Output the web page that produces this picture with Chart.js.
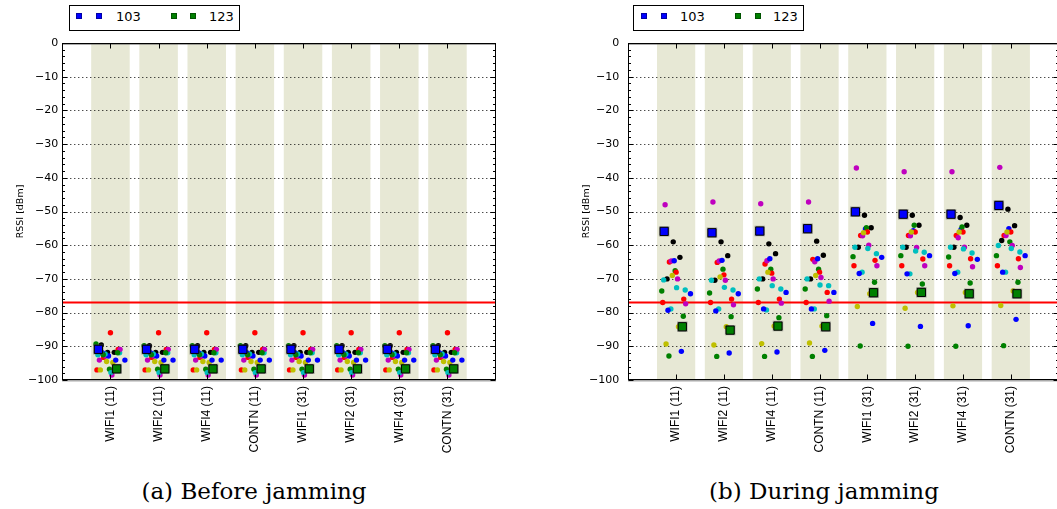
<!DOCTYPE html>
<html><head><meta charset="utf-8">
<script src="https://cdn.jsdelivr.net/npm/chart.js@4.4.1/dist/chart.umd.min.js"></script>
<style>
html,body{margin:0;padding:0;background:#fff;width:1057px;height:509px;overflow:hidden;position:relative;}
canvas{position:absolute;top:0;}
.legend{position:absolute;top:5px;width:169px;height:24px;border:1px solid #000;background:#fff;font-family:'DejaVu Sans';font-size:13px;z-index:5;}
.legend .m{position:absolute;top:7px;width:6px;height:6px;box-sizing:border-box;border:1px solid rgba(0,0,0,0.35);}
.legend .t{position:absolute;top:4px;line-height:13px;color:#000;}
.cap{position:absolute;top:479px;font-family:'DejaVu Serif';font-size:23px;line-height:24px;white-space:nowrap;transform:translateX(-50%);color:#000;}
</style></head><body>
<canvas id="c1" width="530" height="470" style="left:0px"></canvas>
<canvas id="c2" width="500" height="470" style="left:566px"></canvas>
<div class="legend" style="left:69px">
  <span class="m" style="left:6px;background:#0000ff"></span><span class="m" style="left:26px;background:#0000ff"></span><span class="t" style="left:46px">103</span>
  <span class="m" style="left:101px;background:#008000"></span><span class="m" style="left:120px;background:#008000"></span><span class="t" style="left:139px">123</span>
</div>
<div class="legend" style="left:633px">
  <span class="m" style="left:7px;background:#0000ff"></span><span class="m" style="left:27px;background:#0000ff"></span><span class="t" style="left:46px">103</span>
  <span class="m" style="left:101px;background:#008000"></span><span class="m" style="left:121px;background:#008000"></span><span class="t" style="left:139px">123</span>
</div>
<div class="cap" style="left:254px">(a) Before jamming</div>
<div class="cap" style="left:824px">(b) During jamming</div>
<script>
// ---------- data ----------
const categories = ['WIFI1 (11)','WIFI2 (11)','WIFI4 (11)','CONTN (11)','WIFI1 (31)','WIFI2 (31)','WIFI4 (31)','CONTN (31)'];
const yTickValues = [0,-10,-20,-30,-40,-50,-60,-70,-80,-90,-100];
const jammingThreshold = -77;
const legendNodes = ['103','123'];
// one entry per node: colour code and horizontal jitter inside each band
const nodeColors  = ['m','b','k','k','r','m','b','g','r','y','k','c','m','g','c','c','b','r','m','r','c','b','g','g','y','y','b','g'];
const nodeOffsets = [-0.23,-0.25,-0.06,0.08,-0.14,-0.10,-0.04,-0.02,0.00,-0.08,-0.19,-0.26,0.03,-0.30,0.01,0.19,0.30,0.16,0.20,-0.28,-0.11,-0.17,0.15,0.13,0.05,-0.21,0.11,-0.15];
const squareNodes = [1, 23]; // node 103 (blue) and node 123 (green)

// RSSI per node, before jamming
const before_WIFI1_11 = [-94.1,-90.9,-91.8,-91.8,-93.3,-92.9,-92.9,-96.8,-86.0,-94.5,-89.6,-92.5,-98.5,-89.3,-97.8,-91.9,-94.1,-90.9,-90.9,-97.0,-92.3,-91.9,-91.9,-96.7,-94.8,-97.0,-94.1,-92.5];
const before_WIFI2_11 = [-94.1,-90.9,-91.8,-91.8,-93.3,-92.9,-92.9,-96.8,-86.0,-94.5,-89.8,-92.5,-98.5,-89.8,-97.8,-91.9,-94.1,-90.9,-90.9,-97.0,-92.3,-91.9,-91.9,-96.7,-94.8,-97.0,-94.1,-92.5];
const before_WIFI4_11 = [-94.1,-90.9,-91.8,-91.8,-93.3,-92.9,-92.9,-96.8,-86.0,-94.5,-89.8,-92.5,-98.5,-89.8,-97.8,-91.9,-94.1,-90.9,-90.9,-97.0,-92.3,-91.9,-91.9,-96.7,-94.8,-97.0,-94.1,-92.5];
const before_CONTN_11 = [-94.1,-90.9,-91.8,-91.8,-93.3,-92.9,-92.9,-96.8,-86.0,-94.5,-89.8,-92.5,-98.5,-89.8,-97.8,-91.9,-94.1,-90.9,-90.9,-97.0,-92.3,-91.9,-91.9,-96.7,-94.8,-97.0,-94.1,-92.5];
const before_WIFI1_31 = [-94.1,-90.9,-91.8,-91.8,-93.3,-92.9,-92.9,-96.8,-86.0,-94.5,-89.8,-92.5,-98.5,-89.8,-97.8,-91.9,-94.1,-90.9,-90.9,-97.0,-92.3,-91.9,-91.9,-96.7,-94.8,-97.0,-94.1,-92.5];
const before_WIFI2_31 = [-94.1,-90.9,-91.8,-91.8,-93.3,-92.9,-92.9,-96.8,-86.0,-94.5,-89.8,-92.5,-98.5,-89.8,-97.8,-91.9,-94.1,-90.9,-90.9,-97.0,-92.3,-91.9,-91.9,-96.7,-94.8,-97.0,-94.1,-92.5];
const before_WIFI4_31 = [-94.1,-90.9,-91.8,-91.8,-93.3,-92.9,-92.9,-96.8,-86.0,-94.5,-89.8,-92.5,-98.5,-89.8,-97.8,-91.9,-94.1,-90.9,-90.9,-97.0,-92.3,-91.9,-91.9,-96.7,-94.8,-97.0,-94.1,-92.5];
const before_CONTN_31 = [-94.1,-90.9,-91.8,-91.8,-93.3,-92.9,-92.9,-96.8,-86.0,-94.5,-89.8,-92.5,-98.5,-89.8,-97.8,-91.9,-94.1,-90.9,-90.9,-97.0,-92.3,-91.9,-91.9,-96.7,-94.8,-97.0,-94.1,-92.5];

// RSSI per node, during jamming
const during_WIFI1_11 = [-48.0,-55.9,-59.0,-63.6,-65.0,-64.7,-64.6,-67.6,-68.0,-69.0,-70.0,-70.3,-70.0,-73.6,-72.6,-73.3,-74.4,-76.0,-77.4,-77.0,-78.9,-79.3,-81.1,-84.2,-84.2,-89.3,-91.5,-92.9];
const during_WIFI2_11 = [-47.2,-56.3,-59.0,-63.1,-65.1,-64.7,-64.5,-67.1,-68.8,-69.4,-70.4,-70.4,-70.4,-74.2,-72.5,-73.3,-74.4,-76.0,-77.7,-77.0,-78.9,-79.5,-81.2,-85.2,-84.2,-89.6,-92.0,-93.0];
const during_WIFI4_11 = [-47.7,-55.8,-59.6,-62.5,-65.6,-64.6,-64.0,-67.1,-68.3,-68.0,-70.0,-70.0,-70.0,-73.0,-72.0,-73.0,-74.0,-76.0,-77.2,-77.0,-79.2,-78.9,-81.5,-84.0,-84.0,-89.2,-91.7,-93.0];
const during_CONTN_11 = [-47.2,-55.1,-58.8,-63.0,-64.2,-64.9,-64.0,-67.1,-68.0,-69.0,-70.0,-70.0,-69.6,-73.0,-71.8,-72.0,-74.0,-74.0,-76.6,-77.0,-78.9,-78.9,-80.9,-84.2,-84.0,-89.0,-91.2,-93.0];
const during_WIFI1_31 = [-37.1,-50.1,-51.1,-54.8,-57.1,-57.2,-55.2,-54.8,-56.1,-56.3,-60.6,-60.6,-60.0,-63.4,-61.0,-62.5,-63.6,-64.5,-66.1,-66.1,-68.0,-68.4,-71.0,-74.1,-74.4,-78.2,-83.2,-89.9];
const during_WIFI2_31 = [-38.2,-50.8,-51.1,-54.1,-57.1,-57.2,-55.7,-54.1,-56.1,-56.1,-60.6,-60.6,-60.7,-63.1,-61.7,-62.1,-63.1,-64.1,-66.1,-66.1,-68.5,-68.5,-71.5,-74.0,-74.0,-78.7,-84.1,-90.0];
const during_WIFI4_31 = [-38.2,-50.8,-51.8,-54.1,-57.1,-57.8,-55.3,-54.6,-56.1,-56.1,-60.6,-60.6,-60.6,-63.5,-61.1,-62.3,-64.2,-64.0,-66.4,-66.1,-68.0,-68.4,-71.2,-74.4,-74.0,-78.0,-83.9,-90.0];
const during_CONTN_31 = [-36.9,-48.2,-49.3,-54.2,-57.1,-57.1,-55.1,-59.0,-56.1,-56.1,-58.6,-60.1,-60.1,-63.1,-61.0,-62.0,-63.1,-64.0,-66.6,-66.1,-68.0,-68.0,-71.0,-74.4,-73.6,-77.9,-82.0,-89.8];

const beforeSets = [before_WIFI1_11,before_WIFI2_11,before_WIFI4_11,before_CONTN_11,before_WIFI1_31,before_WIFI2_31,before_WIFI4_31,before_CONTN_31];
const duringSets = [during_WIFI1_11,during_WIFI2_11,during_WIFI4_11,during_CONTN_11,during_WIFI1_31,during_WIFI2_31,during_WIFI4_31,during_CONTN_31];

// ---------- styling ----------
const colorMap = {b:'#0000ff', g:'#008000', r:'#ff0000', c:'#00bfbf', m:'#bf00bf', y:'#bfbf00', k:'#000000'};
const bandColor = 'rgb(231,232,213)';

const framePlugin = {
  id: 'frame',
  afterDatasetDraw(chart, args) {
    if (args.index !== 0) return;
    const {ctx, chartArea: a, scales: {y}} = chart;
    ctx.save();
    ctx.strokeStyle = '#000'; ctx.lineWidth = 1; ctx.setLineDash([1, 3]);
    y.ticks.forEach(t => {
      if (t.value === 0 || t.value === -100) return;
      const py = Math.round(y.getPixelForValue(t.value)) + 0.5;
      ctx.beginPath(); ctx.moveTo(a.left, py); ctx.lineTo(a.right, py); ctx.stroke();
    });
    ctx.restore();
  },
  afterDraw(chart) {
    const {ctx, chartArea: a, scales: {x, y}} = chart;
    ctx.save();
    const L = Math.round(a.left) + 0.5, R = Math.round(a.right) - 0.5, T = Math.round(a.top) + 0.5, B = Math.round(a.bottom) - 0.5;
    // hatched top / bottom (dense minor ticks)
    ctx.setLineDash([1, 1]); ctx.strokeStyle = '#555';
    ctx.lineWidth = 2; ctx.beginPath(); ctx.moveTo(L, B + 1); ctx.lineTo(R, B + 1); ctx.stroke();
    ctx.lineWidth = 1; ctx.beginPath(); ctx.moveTo(L, T + 1); ctx.lineTo(R, T + 1); ctx.stroke();
    ctx.setLineDash([]);
    ctx.strokeStyle = '#000'; ctx.lineWidth = 1;
    ctx.strokeRect(L, T, R - L, B - T);
    // y ticks (major 10, minor 2) pointing inwards on both sides
    for (let v = 0; v >= -100; v -= 2) {
      const py = Math.round(y.getPixelForValue(v)) + 0.5;
      const len = (v % 10 === 0) ? 5 : 2.5;
      ctx.beginPath(); ctx.moveTo(L, py); ctx.lineTo(L + len, py); ctx.moveTo(R, py); ctx.lineTo(R - len, py); ctx.stroke();
    }
    // x ticks at category centres
    categories.forEach((c, i) => {
      const px = Math.round(x.getPixelForValue(i + 1)) + 0.5;
      ctx.beginPath(); ctx.moveTo(px, T); ctx.lineTo(px, T + 5); ctx.moveTo(px, B); ctx.lineTo(px, B - 5); ctx.stroke();
    });
    ctx.restore();
  }
};

function buildChart(id, valueSets, yPad, titlePad, rightPad) {
  const datasets = [];
  datasets.push({type: 'bar', data: categories.map((c, i) => ({x: i + 1, y: [-100, 0]})),
    backgroundColor: bandColor, borderWidth: 0, categoryPercentage: 0.8, barPercentage: 1, order: 100});
  datasets.push({type: 'line', data: [{x: 0, y: jammingThreshold}, {x: 9, y: jammingThreshold}],
    borderColor: '#ff0000', borderWidth: 2, pointRadius: 0, order: 50});
  nodeColors.forEach((c, n) => {
    const isSq = squareNodes.includes(n);
    const data = valueSets.map((vals, ci) => ({x: ci + 1 + nodeOffsets[n], y: vals[n]}));
    if (isSq) {
      datasets.push({type: 'scatter', label: legendNodes[squareNodes.indexOf(n)] + ' halo', data, pointStyle: 'rect',
        pointRadius: 7.4, backgroundColor: 'rgba(80,80,80,0.45)', borderWidth: 0, order: -1});
    }
    datasets.push({type: 'scatter', label: isSq ? legendNodes[squareNodes.indexOf(n)] : 'node' + n, data,
      pointStyle: isSq ? 'rect' : 'circle', pointRadius: isSq ? 5.8 : 2.7,
      backgroundColor: colorMap[c], borderColor: isSq ? '#000' : colorMap[c], borderWidth: isSq ? 1 : 0,
      order: isSq ? -2 : (40 - n)});
  });
  return new Chart(document.getElementById(id), {
    type: 'scatter',
    data: {datasets},
    options: {
      responsive: false, devicePixelRatio: 1, animation: false,
      layout: {padding: {left: 0, top: 43, right: rightPad, bottom: 0}},
      plugins: {legend: {display: false}, tooltip: {enabled: false}},
      scales: {
        x: {type: 'linear', min: 0, max: 9, offset: false,
          grid: {display: false, drawTicks: false}, border: {display: false},
          afterBuildTicks: s => { s.ticks = categories.map((c, i) => ({value: i + 1})); },
          afterFit: s => { s.height = 90; },
          ticks: {autoSkip: false, minRotation: 90, maxRotation: 90, padding: 6, color: '#000',
            font: {family: 'Liberation Sans', size: 12}, callback: v => categories[v - 1] ?? ''}},
        y: {type: 'linear', min: -100, max: 0,
          grid: {display: false, drawTicks: false}, border: {display: false},
          afterBuildTicks: s => { s.ticks = yTickValues.map(v => ({value: v})); },
          afterFit: s => { s.width = 62.3; },
          ticks: {padding: yPad, color: '#000', font: {family: 'DejaVu Sans', size: 11},
            callback: v => String(v).replace('-', '\u2212')},
          title: {display: true, text: 'RSSI [dBm]', color: '#000', font: {family: 'DejaVu Sans', size: 9.5},
            padding: {top: 15, bottom: 0}}}
      }
    },
    plugins: [framePlugin]
  });
}

buildChart('c1', beforeSets, 4, 15, 530 - 495.6);
buildChart('c2', duringSets, 9, 13, 500 - (1061.6 - 566));
</script>
</body></html>
